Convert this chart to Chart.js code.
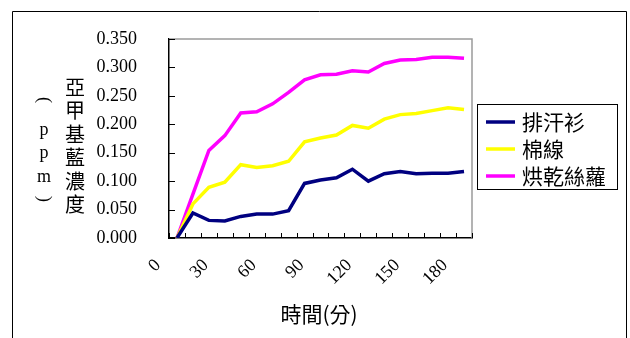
<!DOCTYPE html>
<html>
<head>
<meta charset="utf-8">
<script src="https://cdn.jsdelivr.net/npm/chart.js@4/dist/chart.umd.min.js"></script>
<style>
  html, body { margin: 0; padding: 0; background: #fff; overflow: hidden; }
  #wrap { position: relative; width: 630px; height: 338px; }
</style>
</head>
<body>
<div id="wrap"><canvas id="c" width="630" height="338"></canvas></div>
<script>
// Sampling times (minutes)
const minutes = ['0','10','20','30','40','50','60','70','80','90','100','110','120','130','140','150','160','170','180'];
// Labelled times on the x axis
const shownMinutes = ['0','30','60','90','120','150','180'];

// Methylene blue concentration (ppm)
const shirt  = [0, 0.044, 0.031, 0.030, 0.038, 0.042, 0.042, 0.048, 0.096, 0.102, 0.106, 0.121, 0.100, 0.113, 0.117, 0.113, 0.114, 0.114, 0.117];
const cotton = [0, 0.060, 0.089, 0.098, 0.129, 0.124, 0.127, 0.135, 0.169, 0.176, 0.181, 0.198, 0.193, 0.209, 0.217, 0.219, 0.224, 0.229, 0.226];
const silk   = [0, 0.077, 0.154, 0.180, 0.220, 0.222, 0.236, 0.256, 0.278, 0.287, 0.288, 0.294, 0.292, 0.307, 0.313, 0.314, 0.318, 0.318, 0.316];

const seriesNames  = ['排汗衫', '棉線', '烘乾絲蘿'];
const seriesColors = ['#000080', '#FFFF00', '#FF00FF'];

const yMax = 0.35;
const yStep = 0.05;

const yTitleMain = '亞甲基藍濃度';
const yTitleUnit = '(ppm)';
const xTitle = '時間(分)';

const serif = "'Liberation Serif', 'Times New Roman', serif";
const cjk = "'Noto Sans CJK TC', 'Noto Sans CJK SC', sans-serif";

// Page frame, white fill and the grey plot-area border
const framePlugin = {
  id: 'frame',
  beforeDraw(chart) {
    const ctx = chart.ctx;
    ctx.save();
    ctx.fillStyle = '#fff';
    ctx.fillRect(0, 0, chart.width, chart.height);
    ctx.strokeStyle = '#000';
    ctx.lineWidth = 1;
    ctx.beginPath();
    ctx.moveTo(12.5, chart.height);
    ctx.lineTo(12.5, 11.5);
    ctx.lineTo(626.5, 11.5);
    ctx.lineTo(626.5, chart.height);
    ctx.stroke();
    ctx.restore();
  },
  beforeDatasetsDraw(chart) {
    const ctx = chart.ctx, a = chart.chartArea;
    ctx.save();
    ctx.strokeStyle = '#9a9a9a';
    ctx.lineWidth = 1.5;
    ctx.beginPath();
    ctx.moveTo(a.left, a.top);
    ctx.lineTo(a.right, a.top);
    ctx.lineTo(a.right, a.bottom);
    ctx.stroke();

    // inward tick marks
    ctx.strokeStyle = '#000';
    ctx.lineWidth = 1;
    const ys = chart.scales.y;
    ys.ticks.forEach((t, i) => {
      const y = Math.round(ys.getPixelForTick(i)) + 0.5;
      ctx.beginPath();
      ctx.moveTo(a.left, y);
      ctx.lineTo(a.left + 6, y);
      ctx.stroke();
    });
    const xs = chart.scales.x;
    const half = (xs.getPixelForValue(1) - xs.getPixelForValue(0)) / 2;
    for (let i = 0; i <= minutes.length; i++) {
      const x = Math.round(xs.getPixelForValue(i) - half) + 0.5;
      ctx.beginPath();
      ctx.moveTo(x, a.bottom);
      ctx.lineTo(x, a.bottom - 5);
      ctx.stroke();
    }
    ctx.restore();
  }
};

// Axis titles and the boxed legend
const textPlugin = {
  id: 'texts',
  afterDraw(chart) {
    const ctx = chart.ctx;
    ctx.save();
    ctx.fillStyle = '#000';
    ctx.textAlign = 'center';
    ctx.textBaseline = 'middle';

    // vertical y title: main column then the unit column to its left
    ctx.font = '20px ' + cjk;
    const mainY = [87.5, 110.8, 134.2, 157.6, 181, 204.5];
    [...yTitleMain].forEach((ch, i) => ctx.fillText(ch, 75, mainY[i]));

    const unitY = [100, 130, 153, 177, 199];
    [...yTitleUnit].forEach((ch, i) => {
      if (ch === '(' || ch === ')') {
        ctx.save();
        ctx.translate(44, unitY[i]);
        ctx.rotate(Math.PI / 2);
        ctx.font = '18px ' + serif;
        ctx.fillText(ch, 0, 0);
        ctx.restore();
      } else {
        ctx.font = '18px ' + serif;
        ctx.fillText(ch, 44, unitY[i]);
      }
    });

    // x title
    ctx.font = '21px ' + cjk;
    ctx.fillText(xTitle, 319, 314);

    // legend
    ctx.strokeStyle = '#000';
    ctx.lineWidth = 1;
    ctx.strokeRect(477.5, 104.5, 140, 85);
    const rows = [122, 149, 176];
    ctx.textAlign = 'left';
    ctx.font = '21px ' + cjk;
    chart.data.datasets.forEach((ds, i) => {
      ctx.strokeStyle = ds.borderColor;
      ctx.lineWidth = 3.5;
      ctx.beginPath();
      ctx.moveTo(486, rows[i]);
      ctx.lineTo(515, rows[i]);
      ctx.stroke();
      ctx.fillStyle = '#000';
      ctx.fillText(ds.label, 522, rows[i]);
    });
    ctx.restore();
  }
};

new Chart(document.getElementById('c'), {
  type: 'line',
  data: {
    labels: minutes,
    datasets: [shirt, cotton, silk].map((d, i) => ({
      label: seriesNames[i],
      data: d,
      borderColor: seriesColors[i],
      backgroundColor: seriesColors[i],
      borderWidth: 3.5,
      pointRadius: 0,
      tension: 0,
      fill: false
    }))
  },
  options: {
    responsive: false,
    devicePixelRatio: 1,
    animation: false,
    layout: { padding: { top: 39, right: 158, bottom: 0, left: 0 } },
    plugins: { legend: { display: false }, tooltip: { enabled: false } },
    scales: {
      x: {
        type: 'category',
        offset: true,
        grid: { display: false },
        border: { display: true, color: '#000', width: 1.5 },
        ticks: {
          autoSkip: false,
          minRotation: 45,
          maxRotation: 45,
          padding: 9,
          labelOffset: -19,
          color: '#000',
          font: { family: serif, size: 18 },
          callback: (v, i) => shownMinutes.includes(minutes[i]) ? minutes[i] : ''
        },
        afterFit: s => { s.height = 100; }
      },
      y: {
        min: 0,
        max: yMax,
        grid: { display: false },
        border: { display: true, color: '#000', width: 1.5 },
        ticks: {
          stepSize: yStep,
          padding: 24,
          color: '#000',
          font: { family: serif, size: 18 },
          callback: v => v.toFixed(3)
        },
        afterFit: s => { s.width = 169; }
      }
    }
  },
  plugins: [framePlugin, textPlugin]
});
</script>
</body>
</html>
